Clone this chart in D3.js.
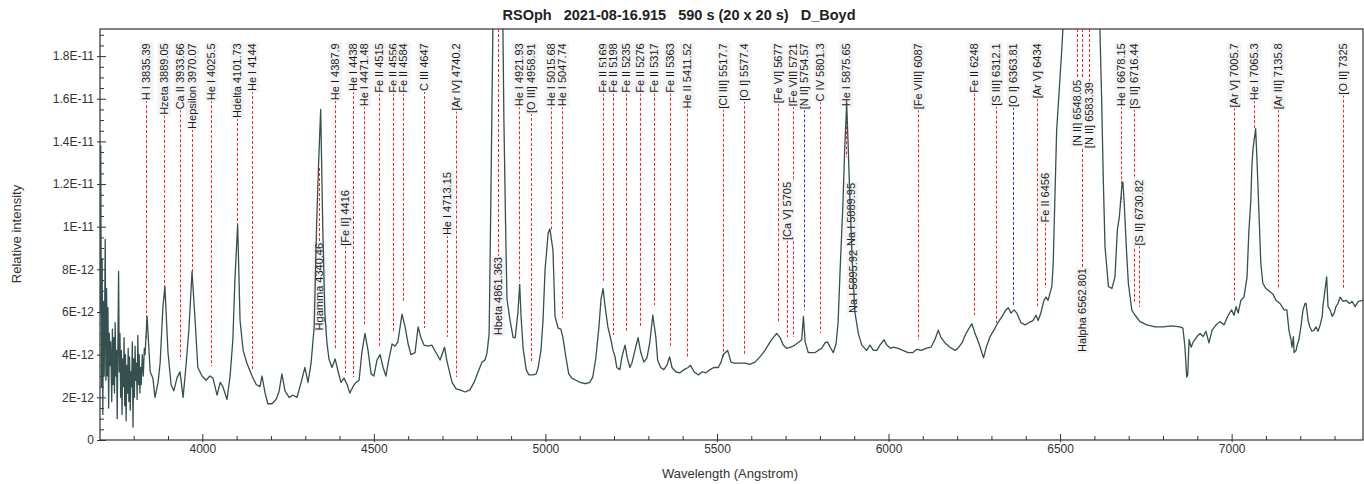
<!DOCTYPE html>
<html>
<head>
<meta charset="utf-8">
<script src="https://cdn.jsdelivr.net/npm/d3@7"></script>
<style>
  body { margin: 0; background: #fff; }
  svg { font-family: "Liberation Sans", Arial, sans-serif; }
</style>
</head>
<body>
<svg id="chart" width="1364" height="484"></svg>
<script>
// spectrum: [wavelength (Angstrom), relative intensity in units of 1E-12]
const spectrum = [
  [3702,6.0],[3704,13.8],[3706,2.5],[3708,8.5],[3710,1.2],[3712,6.5],[3714,3.0],[3717,9.4],[3719,2.8],[3721,7.1],
  [3723,3.0],[3725,6.2],[3727,1.5],[3729,5.0],[3731,3.5],[3733,4.6],[3736,1.8],[3738,5.2],[3740,2.6],[3742,4.8],
  [3744,2.2],[3746,5.5],[3748,3.0],[3750,4.2],[3752,1.0],[3754,4.5],[3756,7.9],[3758,3.2],[3760,5.0],[3762,2.0],
  [3764,4.2],[3766,1.2],[3768,3.8],[3770,2.5],[3772,4.8],[3774,1.6],[3776,4.0],[3778,0.9],[3780,3.5],[3782,2.2],
  [3784,4.3],[3786,1.8],[3788,3.9],[3790,1.4],[3792,3.2],[3794,2.5],[3796,4.6],[3798,0.6],[3800,3.8],[3802,2.0],
  [3804,4.4],[3806,2.8],[3808,3.6],[3810,1.9],[3812,4.9],[3814,2.6],[3816,4.0],[3818,2.2],[3820,3.4],[3822,2.6],
  [3825,4.0],[3828,3.0],[3831,4.3],[3833,4.0],[3839,5.8],[3848,3.2],[3856,2.9],[3862,2.0],[3871,2.7],[3877,3.6],
  [3885,6.2],[3891,7.2],[3900,4.1],[3909,2.6],[3917,2.3],[3926,2.9],[3935,3.2],[3944,2.0],[3952,3.4],[3961,5.2],
  [3970,7.9],[3979,5.6],[3987,3.4],[3999,3.0],[4011,2.8],[4022,3.0],[4031,2.9],[4043,2.1],[4052,2.7],[4060,2.5],
  [4072,1.9],[4081,3.0],[4089,4.7],[4095,7.5],[4103,10.1],[4110,5.6],[4119,4.2],[4130,3.6],[4145,3.0],[4157,2.6],
  [4168,2.5],[4174,3.0],[4183,2.2],[4191,1.7],[4203,1.7],[4215,1.9],[4224,2.3],[4232,3.1],[4241,2.3],[4253,2.0],
  [4264,2.1],[4276,2.0],[4288,2.7],[4299,3.4],[4308,2.7],[4317,3.6],[4326,5.3],[4333,10.0],[4339,13.0],[4345,15.5],
  [4351,10.0],[4357,6.0],[4363,4.6],[4369,3.8],[4378,3.4],[4387,3.8],[4396,3.2],[4404,2.7],[4413,2.9],[4422,2.6],
  [4430,2.2],[4439,2.5],[4448,2.7],[4457,2.8],[4465,4.1],[4474,5.0],[4483,4.2],[4492,3.1],[4500,3.0],[4509,3.75],
  [4518,4.0],[4527,3.4],[4535,3.0],[4544,3.8],[4553,4.5],[4562,4.4],[4570,4.6],[4582,5.9],[4591,5.3],[4600,4.5],
  [4608,4.0],[4620,4.1],[4629,5.3],[4637,4.8],[4646,4.45],[4658,4.4],[4669,4.45],[4681,4.1],[4693,3.75],[4706,4.35],
  [4713,3.7],[4719,3.3],[4728,2.7],[4740,2.4],[4751,2.35],[4766,2.25],[4780,2.35],[4792,2.7],[4804,3.2],[4815,3.65],
  [4824,3.75],[4830,4.1],[4836,5.0],[4841,11.3],[4847,19.5],[4855,32],[4862,38],[4869,30],[4876,19.5],[4879,15],
  [4884,10],[4888,6.6],[4897,5.6],[4906,4.8],[4912,4.8],[4920,6.0],[4925,7.3],[4929,5.8],[4935,4.3],[4944,3.3],
  [4952,3.05],[4964,3.05],[4973,3.1],[4979,3.4],[4987,4.2],[4993,5.6],[4999,8.0],[5008,9.7],[5013,9.9],[5022,8.9],
  [5028,5.8],[5037,5.25],[5045,5.2],[5051,4.8],[5060,3.85],[5068,3.1],[5077,2.9],[5089,2.8],[5101,2.7],[5112,2.65],
  [5121,2.65],[5129,2.7],[5138,2.95],[5147,3.85],[5156,5.3],[5162,6.6],[5168,7.1],[5174,6.25],[5182,5.3],[5191,4.7],
  [5197,4.2],[5203,3.9],[5208,3.4],[5217,3.3],[5223,3.9],[5232,4.45],[5238,3.9],[5246,3.4],[5252,3.6],[5261,4.2],
  [5270,4.8],[5278,4.1],[5287,3.65],[5296,3.85],[5304,4.55],[5313,5.85],[5322,4.8],[5327,3.75],[5336,3.4],[5345,3.3],
  [5354,3.5],[5362,3.9],[5369,3.4],[5380,3.2],[5392,3.15],[5404,3.3],[5416,3.4],[5423,3.5],[5433,3.2],[5446,3.05],
  [5457,3.2],[5467,3.15],[5480,3.3],[5491,3.4],[5504,3.4],[5512,3.65],[5518,4.0],[5531,4.2],[5541,3.65],[5551,3.6],
  [5567,3.6],[5582,3.6],[5596,3.55],[5611,3.65],[5625,3.9],[5640,4.2],[5655,4.6],[5664,4.8],[5674,5.0],[5684,4.8],
  [5693,4.45],[5703,4.3],[5715,4.35],[5727,4.45],[5739,4.6],[5747,4.7],[5752,5.8],[5757,4.6],[5766,4.1],[5776,4.1],
  [5786,4.1],[5795,4.2],[5805,4.3],[5815,4.55],[5822,4.6],[5830,4.35],[5839,4.1],[5847,4.5],[5853,5.5],[5859,8],
  [5867,11],[5872,13.5],[5878,15.8],[5882,14],[5888,11],[5894,8.5],[5902,6],[5912,5.0],[5922,4.45],[5936,4.2],
  [5946,4.45],[5956,4.2],[5966,4.2],[5975,4.45],[5987,4.7],[5995,4.45],[6006,4.3],[6013,4.35],[6028,4.3],[6042,4.2],
  [6057,4.1],[6071,4.1],[6083,4.25],[6095,4.2],[6109,4.3],[6124,4.35],[6135,4.7],[6145,5.15],[6153,4.8],[6165,4.55],
  [6179,4.35],[6194,4.2],[6202,4.3],[6214,4.55],[6226,5.0],[6237,5.3],[6243,5.45],[6252,5.0],[6263,4.55],[6272,4.1],
  [6277,3.85],[6284,4.3],[6296,4.85],[6307,5.15],[6319,5.5],[6331,5.8],[6342,6.1],[6349,6.2],[6357,5.95],[6366,6.1],
  [6374,5.95],[6386,5.5],[6398,5.4],[6409,5.5],[6421,5.6],[6430,5.85],[6436,5.6],[6444,5.95],[6453,6.55],[6459,6.7],
  [6465,6.55],[6476,7.2],[6480,8.3],[6490,14.5],[6505,18.3],[6509,19.5],[6530,28],[6550,40],[6562,45],[6575,40],
  [6595,28],[6616,19.3],[6621,16.1],[6626,12.2],[6631,9.06],[6641,7.2],[6651,7.1],[6660,7.65],[6667,9.85],[6673,10.5],
  [6680,11.9],[6683,12.1],[6687,11.1],[6693,9.06],[6699,7.35],[6709,6.1],[6718,5.86],[6733,5.55],[6753,5.4],[6777,5.3],
  [6800,5.3],[6824,5.35],[6850,5.3],[6858,5.25],[6864,4.35],[6869,2.95],[6872,3.05],[6876,4.7],[6882,4.35],[6888,4.6],
  [6899,4.85],[6908,5.0],[6917,4.85],[6925,5.1],[6934,4.55],[6943,5.15],[6955,5.4],[6966,5.55],[6978,5.4],[6990,5.85],
  [7000,6.1],[7007,5.85],[7013,6.25],[7019,5.95],[7027,6.55],[7036,6.7],[7045,7.65],[7050,9.7],[7056,11.25],[7059,12.8],
  [7062,13.6],[7070,14.6],[7074,13.1],[7080,10.5],[7085,8.3],[7091,7.35],[7100,7.1],[7112,6.95],[7120,6.85],[7129,6.55],
  [7141,6.4],[7153,6.1],[7161,6.1],[7167,5.15],[7173,4.7],[7176,4.35],[7180,4.85],[7182,4.1],[7188,4.2],[7191,4.45],
  [7196,4.7],[7202,5.3],[7208,6.1],[7214,6.4],[7217,6.4],[7223,5.6],[7228,5.3],[7234,5.1],[7240,5.15],[7246,5.3],
  [7252,5.1],[7258,5.4],[7264,5.8],[7266,6.25],[7277,7.65],[7281,6.25],[7287,6.1],[7293,5.8],[7299,5.95],[7304,6.25],
  [7310,6.4],[7316,6.7],[7325,6.5],[7334,6.55],[7343,6.4],[7351,6.5],[7360,6.25],[7369,6.5],[7383,6.55]
];

// line identifications
const lineNames = [
  "H I 3835.39", "Hzeta 3889.05", "Ca II 3933.66", "Hepsilon 3970.07", "He I 4025.5", "Hdelta 4101.73", "He I 4144",
  "Hgamma 4340.46", "He I 4387.9", "[Fe II] 4416", "He I 4438", "He I 4471.48", "Fe II 4515", "Fe II 4556",
  "Fe II 4584", "C III 4647", "He I 4713.15", "[Ar IV] 4740.2", "Hbeta 4861.363", "He I 4921.93", "[O III] 4958.91",
  "He I 5015.68", "He I 5047.74", "Fe II 5169", "Fe II 5198", "Fe II 5235", "Fe II 5276", "Fe II 5317", "Fe II 5363",
  "He II 5411.52", "[Cl III] 5517.7", "[O I] 5577.4", "[Fe VI] 5677", "[Ca V] 5705", "[Fe VII] 5721", "[N II] 5754.57",
  "C IV 5801.3", "He I 5875.65", "Na I 5889.95", "Na I 5895.92", "[Fe VIII] 6087", "Fe II 6248", "[S III] 6312.1",
  "[O I] 6363.81", "[Ar V] 6434", "Fe II 6456", "[N II] 6548.05", "Halpha 6562.801", "[N II] 6583.39", "He I 6678.15",
  "[S II] 6716.44", "[S II] 6730.82", "[Ar V] 7005.7", "He I 7065.3", "[Ar III] 7135.8", "[O II] 7325"
];
const lineWaves = [
  3835.39, 3889.05, 3933.66, 3970.07, 4025.5, 4101.73, 4144,
  4340.46, 4387.9, 4416, 4438, 4471.48, 4515, 4556,
  4584, 4647, 4713.15, 4740.2, 4861.363, 4921.93, 4958.91,
  5015.68, 5047.74, 5169, 5198, 5235, 5276, 5317, 5363,
  5411.52, 5517.7, 5577.4, 5677, 5705, 5721, 5754.57,
  5801.3, 5875.65, 5889.95, 5895.92, 6087, 6248, 6312.1,
  6363.81, 6434, 6456, 6548.05, 6562.801, 6583.39, 6678.15,
  6716.44, 6730.82, 7005.7, 7065.3, 7135.8, 7325
];
// intensity (1E-12) at the upper end of each label
const lineLabelLevel = [
  18.6, 18.6, 18.6, 18.6, 18.6, 18.6, 18.6,
  9.24, 18.6, 11.72, 18.6, 18.6, 18.6, 18.6,
  18.6, 18.6, 12.56, 18.6, 8.58, 18.6, 18.6,
  18.6, 18.6, 18.6, 18.6, 18.6, 18.6, 18.6, 18.6,
  18.6, 18.6, 18.6, 18.6, 12.1, 18.6, 18.6,
  18.6, 18.6, 12.05, 8.91, 18.6, 18.6, 18.6,
  18.6, 18.6, 12.52, 16.88, 8.06, 16.78, 18.6,
  18.6, 12.19, 18.6, 18.6, 18.6, 18.6
];
// intensity (1E-12) where the marker line meets the spectrum (null = no marker)
const lineMarkTo = [
  4.69, 6.56, 3.75, 7.74, 3.47, 9.38, 3.28,
  12.75, 4.31, 3.14, 2.95, 5.39, 4.31, 5.02,
  6.47, 5.25, 4.83, 2.95, 30, 7.41, 3.61,
  9.85, 5.72, 7.41, 4.92, 5.02, 5.30, 6.33, 4.36,
  3.84, 3.89, 3.99, 5.49, 4.83, 4.83, 6.09,
  5.02, 13.27, null, null, 4.69, 5.86, 5.49,
  6.33, 6.19, 7.13, 30, 30, 30, 11.16,
  6.42, 6.24, 6.47, 14.63, 7.13, 7.13
];
const blueLines = ["[N II] 5754.57", "[O I] 6363.81"];

const xTicks = [4000, 4500, 5000, 5500, 6000, 6500, 7000];
const xMinorTicks = d3.range(3800, 7400, 100);
const yTicks = [0, 2, 4, 6, 8, 10, 12, 14, 16, 18];
const yMinorTicks = d3.range(0, 19.5, 0.5);

const titleText = "RSOph   2021-08-16.915   590 s (20 x 20 s)   D_Boyd";
const xTitle = "Wavelength (Angstrom)";
const yTitle = "Relative intensity";

const svg = d3.select("#chart");
const plotLeft = 100, plotRight = 1363, plotTop = 29, plotBottom = 440;

const x = d3.scaleLinear().domain([3701.8, 7382.9]).range([plotLeft, plotRight]);
const y = d3.scaleLinear().domain([0, 19.27]).range([plotBottom, plotTop]);
const yMax = y.domain()[1];

const fmtY = v => {
  if (v === 0) return "0";
  if (v < 10) return `${v}E-12`;
  return `${+(v / 10).toFixed(2)}E-11`;
};

svg.append("defs").append("clipPath").attr("id", "plotClip")
  .append("rect").attr("x", plotLeft).attr("y", plotTop)
  .attr("width", plotRight - plotLeft).attr("height", plotBottom - plotTop);

// title
svg.append("text")
  .attr("x", 679).attr("y", 20)
  .attr("text-anchor", "middle")
  .style("font-weight", "bold").style("font-size", "14.5px")
  .style("white-space", "pre").attr("fill", "#222")
  .text(titleText);

// axes
const axisColor = "#333";
svg.append("g").attr("transform", `translate(0,${plotBottom})`)
  .call(d3.axisBottom(x).tickValues(xTicks).tickSize(2).tickPadding(2).tickFormat(d3.format("d")));
svg.append("g").attr("transform", `translate(0,${plotBottom})`)
  .call(d3.axisTop(x).tickValues(xTicks).tickSize(6).tickFormat(""));
svg.append("g").attr("transform", `translate(0,${plotBottom})`)
  .call(d3.axisTop(x).tickValues(xMinorTicks.filter(d => !xTicks.includes(d))).tickSize(4).tickFormat(""));

svg.append("g").attr("transform", `translate(${plotLeft},0)`)
  .call(d3.axisLeft(y).tickValues(yTicks).tickSize(3).tickPadding(3).tickFormat(fmtY));
svg.append("g").attr("transform", `translate(${plotLeft},0)`)
  .call(d3.axisRight(y).tickValues(yTicks).tickSize(6).tickFormat(""));
svg.append("g").attr("transform", `translate(${plotLeft},0)`)
  .call(d3.axisRight(y).tickValues(yMinorTicks.filter(d => !yTicks.includes(d))).tickSize(4).tickFormat(""));

svg.selectAll(".domain").remove();
svg.selectAll(".tick line").attr("stroke", axisColor);
svg.selectAll(".tick text").attr("fill", "#333").style("font-size", "12px")
  .style("font-family", '"Liberation Sans", Arial, sans-serif');

// frame
svg.append("rect")
  .attr("x", plotLeft).attr("y", plotTop)
  .attr("width", plotRight - plotLeft).attr("height", plotBottom - plotTop)
  .attr("fill", "none").attr("stroke", axisColor).attr("stroke-width", 1.2);

// axis titles
svg.append("text")
  .attr("x", 730).attr("y", 478)
  .attr("text-anchor", "middle").style("font-size", "13px").attr("fill", "#333")
  .text(xTitle);
svg.append("text")
  .attr("transform", "translate(21,234) rotate(-90)")
  .attr("text-anchor", "middle").style("font-size", "13px").attr("fill", "#333")
  .text(yTitle);

// line identifications
const marks = svg.append("g").attr("clip-path", "url(#plotClip)");
const labels = svg.append("g");

lineNames.forEach((name, i) => {
  const lx = Math.round(x(lineWaves[i])) + 0.5;
  const ly = y(lineLabelLevel[i]);
  const g = labels.append("g").attr("transform", `translate(${lx},${ly}) rotate(-90)`);
  const bg = g.append("rect");
  const t = g.append("text")
    .attr("text-anchor", "end").attr("dy", "0.35em")
    .style("font-size", "11px").attr("fill", "#1a1a1a")
    .text(name);
  const bb = t.node().getBBox();
  bg.attr("x", bb.x - 1).attr("y", bb.y - 1)
    .attr("width", bb.width + 2).attr("height", bb.height + 2)
    .attr("fill", "#f4f4f4");
  const len = t.node().getComputedTextLength();

  if (lineMarkTo[i] === null) return;
  const endY = y(Math.min(lineMarkTo[i], yMax));
  let y1 = null, y2 = null;
  if (endY > ly + len) { y1 = ly + len; y2 = endY; }
  else if (endY < ly) { y1 = endY; y2 = ly; }
  if (y1 === null) return;
  marks.append("line")
    .attr("x1", lx).attr("x2", lx).attr("y1", y1).attr("y2", y2)
    .attr("stroke", blueLines.includes(name) ? "#1f3fd0" : "#ff2020")
    .attr("stroke-width", 1)
    .attr("stroke-dasharray", "3,2");
});

// spectrum
svg.append("path")
  .datum(spectrum)
  .attr("clip-path", "url(#plotClip)")
  .attr("fill", "none")
  .attr("stroke", "#34504f")
  .attr("stroke-width", 1.3)
  .attr("stroke-linejoin", "round")
  .attr("d", d3.line().x(d => x(d[0])).y(d => y(d[1])));
</script>
</body>
</html>
